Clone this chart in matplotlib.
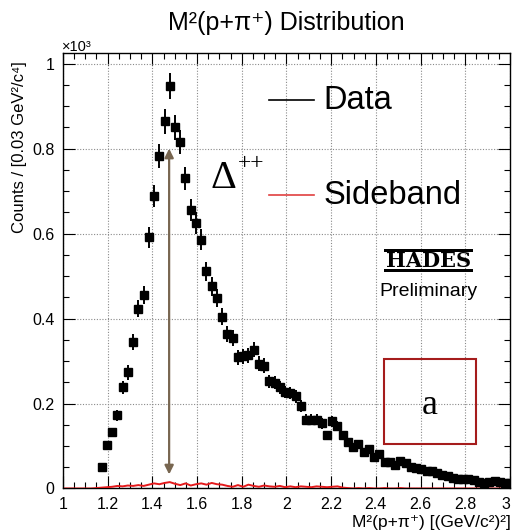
import numpy as np
import matplotlib
matplotlib.use("Agg")
import matplotlib.pyplot as plt
from matplotlib.patches import Rectangle
from matplotlib.ticker import MultipleLocator

# ---------------- data (counts in units of 10^3) ----------------
bin_width = 0.02345
data_first_center = 1.173
data_counts = [
    0.050, 0.102, 0.132, 0.172, 0.238, 0.273, 0.344, 0.423, 0.456, 0.591,
    0.688, 0.782, 0.864, 0.948, 0.850, 0.815, 0.730, 0.655, 0.625, 0.586,
    0.511, 0.476, 0.449, 0.404, 0.364, 0.355, 0.309, 0.311, 0.313, 0.327,
    0.294, 0.289, 0.252, 0.249, 0.238, 0.227, 0.225, 0.217, 0.194, 0.162,
    0.162, 0.162, 0.153, 0.125, 0.158, 0.147, 0.125, 0.109, 0.098, 0.104,
    0.085, 0.092, 0.074, 0.080, 0.063, 0.062, 0.056, 0.064, 0.060, 0.051,
    0.048, 0.045, 0.042, 0.040, 0.037, 0.032, 0.030, 0.025, 0.023, 0.023,
    0.022, 0.020, 0.016, 0.013, 0.016, 0.018, 0.016, 0.013, 0.012,
]
sideband_first_center = 1.009
sideband_counts = [
    0.000, 0.000, 0.000, 0.000, 0.000, 0.000, 0.001,
    0.002, 0.003, 0.004, 0.006, 0.005, 0.007, 0.006, 0.008, 0.006, 0.009,
    0.012, 0.010, 0.013, 0.015, 0.011, 0.008, 0.012, 0.007, 0.010, 0.012,
    0.009, 0.013, 0.010, 0.009, 0.006, 0.004, 0.008, 0.004, 0.009, 0.006,
    0.004, 0.007, 0.005, 0.004, 0.006, 0.003, 0.005, 0.003, 0.005, 0.004,
    0.003, 0.005, 0.004, 0.003, 0.004, 0.005, 0.002, 0.001, 0.000, 0.001,
    0.000, 0.001, 0.000, 0.000, 0.001, 0.000, 0.000, 0.001, 0.000, 0.000,
    0.000, 0.000, 0.000, 0.000, 0.000, 0.000, 0.000, 0.000, 0.000, 0.000,
    0.000, 0.000, 0.000, 0.000, 0.000, 0.000, 0.000, 0.000, 0.000,
]
delta_mass2 = 1.475          # arrow position
arrow_top, arrow_bottom = 0.80, 0.033
x_ticks = [1, 1.2, 1.4, 1.6, 1.8, 2, 2.2, 2.4, 2.6, 2.8, 3]
x_tick_labels = ["1", "1.2", "1.4", "1.6", "1.8", "2", "2.2", "2.4", "2.6", "2.8", "3"]
y_ticks = [0, 0.2, 0.4, 0.6, 0.8, 1]
y_tick_labels = ["0", "0.2", "0.4", "0.6", "0.8", "1"]

x_data = data_first_center + bin_width * np.arange(len(data_counts))
y_data = np.array(data_counts)
y_err = np.sqrt(y_data * 1000.0) / 1000.0
x_sb = sideband_first_center + bin_width * np.arange(len(sideband_counts))
y_sb = np.array(sideband_counts)

SANS = ["Liberation Sans", "DejaVu Sans"]
SERIF = ["Liberation Serif", "DejaVu Serif"]
plt.rcParams["font.family"] = SANS

fig = plt.figure(figsize=(5.12, 5.32), dpi=100)
ax = fig.add_axes([0.123, 0.0818, 0.873, 0.8186])

# sideband (red polyline)
ax.plot(x_sb, y_sb, color="#e41a1c", lw=1.4, zorder=3)
# data points
ax.errorbar(x_data, y_data, yerr=y_err, fmt="s", color="black", ms=5.2,
            elinewidth=1.4, capsize=0, zorder=4)

# double arrow
ax.annotate("", xy=(delta_mass2, arrow_top), xytext=(delta_mass2, arrow_bottom),
            arrowprops=dict(arrowstyle="<|-|>", color="#786650", lw=1.6,
                            mutation_scale=13, shrinkA=0, shrinkB=0), zorder=5)

ax.set_xlim(1, 3)
ax.set_ylim(0, 1.025)
ax.set_xticks(x_ticks)
ax.set_xticklabels(x_tick_labels)
ax.set_yticks(y_ticks)
ax.set_yticklabels(y_tick_labels)
ax.xaxis.set_minor_locator(MultipleLocator(0.05))
ax.yaxis.set_minor_locator(MultipleLocator(0.05))
ax.tick_params(which="both", direction="in", top=True, right=True,
               labelsize=11.5, width=0.8)
ax.tick_params(which="major", length=8.5)
ax.tick_params(which="minor", length=4.3)
ax.tick_params(axis="x", which="major", pad=6)
ax.tick_params(axis="y", which="major", pad=6)
ax.get_xticklabels()[-1].set_horizontalalignment("right")
ax.grid(True, which="major", color="#8a8a8a", linestyle=(0, (1, 1.5)), lw=0.8)
ax.set_axisbelow(True)
for s in ax.spines.values():
    s.set_linewidth(1.0)

# legend (manual, borderless)
ax.plot([0.461, 0.562], [0.891, 0.891], transform=ax.transAxes, color="black", lw=1.2)
ax.text(0.583, 0.892, "Data", transform=ax.transAxes, fontsize=23.5,
        ha="left", va="center")
ax.plot([0.461, 0.562], [0.673, 0.673], transform=ax.transAxes, color="#e04040", lw=1.2)
ax.text(0.583, 0.673, "Sideband", transform=ax.transAxes, fontsize=23.5,
        ha="left", va="center")

# Delta++
ax.text(0.329, 0.690, "\u0394", transform=ax.transAxes, fontsize=29,
        family=SERIF, ha="left", va="baseline")
ax.text(0.392, 0.745, "++", transform=ax.transAxes, fontsize=17,
        family=SERIF, ha="left", va="center")

# HADES logo
ax.add_patch(Rectangle((0.718, 0.543), 0.199, 0.007, transform=ax.transAxes,
                       color="black", lw=0))
ax.add_patch(Rectangle((0.718, 0.497), 0.199, 0.007, transform=ax.transAxes,
                       color="black", lw=0))
ax.text(0.8175, 0.523, "HADES", transform=ax.transAxes, fontsize=15,
        family=["DejaVu Serif"], weight="bold", ha="center", va="center")
ax.text(0.8175, 0.442, "Preliminary", transform=ax.transAxes, fontsize=14,
        ha="center", va="baseline")

# red box with "a"
ax.add_patch(Rectangle((0.719, 0.102), 0.204, 0.195, transform=ax.transAxes,
                       fill=False, edgecolor="#a51c1c", lw=1.5, zorder=6))
ax.text(0.820, 0.191, "a", transform=ax.transAxes, fontsize=26,
        family=SERIF, ha="center", va="center")

# titles and labels
fig.text(0.5596, 0.9436, "M\u00b2(p+\u03c0\u207a) Distribution", fontsize=18,
         ha="center", va="baseline", family=SANS)
fig.text(0.121, 0.905, "\u00d710\u00b3", fontsize=10.5, ha="left",
         va="baseline", family=SANS)
fig.text(0.038, 0.885, "Counts / [0.03 GeV\u00b2/c\u2074]", fontsize=12,
         rotation=90, ha="center", va="top", family=SANS)
fig.text(0.998, 0.0094, "M\u00b2(p+\u03c0\u207a) [(GeV/c\u00b2)\u00b2]",
         fontsize=12.5, ha="right", va="baseline", family=SANS)

fig.savefig("out.png", dpi=100)
